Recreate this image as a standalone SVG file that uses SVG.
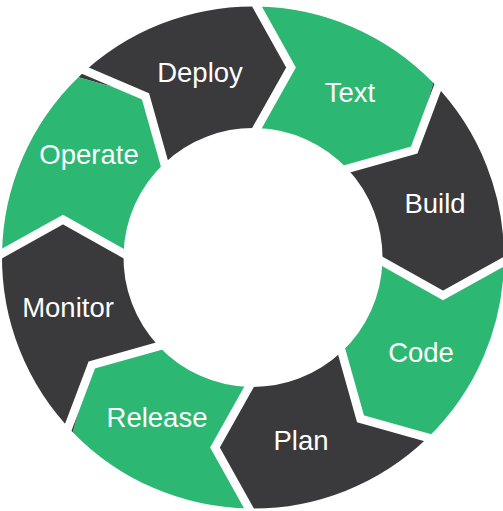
<svg xmlns="http://www.w3.org/2000/svg" width="503" height="511" viewBox="0 0 503 511">
<style>
.g{fill:#2cb873}
.d{fill:#3a393b}
.gap{fill:none;stroke:#ffffff;stroke-width:8.5;stroke-linejoin:miter;stroke-miterlimit:10}
text{font-family:"Liberation Sans",Arial,sans-serif;font-size:27.5px;fill:#ffffff;text-anchor:middle}
</style>
<rect width="503" height="511" fill="#ffffff"/>
<g id="deploy">
<path class="d" d="M78.37,77.21 A251,251 0 0 1 257,6.53 L291,67.5 L257,128.06 A129.5,129.5 0 0 0 164.30,163.14 L145.52,96.28 Z"/>
<text x="200" y="82">Deploy</text>
</g>
<g id="text">
<path class="g" d="M257,6.53 A251,251 0 0 1 433.29,82.87 L414.22,150.02 L347.36,168.80 A129.5,129.5 0 0 0 257,128.06 L291,67.5 Z"/>
<text x="350" y="102">Text</text>
</g>
<g id="build">
<path class="d" d="M433.29,82.87 A251,251 0 0 1 503.97,261.5 L443,295.5 L382.44,261.5 A129.5,129.5 0 0 0 347.36,168.80 L414.22,150.02 Z"/>
<text x="435" y="213">Build</text>
</g>
<g id="code">
<path class="g" d="M503.97,261.5 A251,251 0 0 1 427.63,437.79 L360.48,418.72 L341.70,351.86 A129.5,129.5 0 0 0 382.44,261.5 L443,295.5 Z"/>
<text x="421" y="362">Code</text>
</g>
<g id="plan">
<path class="d" d="M427.63,437.79 A251,251 0 0 1 249,508.47 L215,447.5 L249,386.94 A129.5,129.5 0 0 0 341.70,351.86 L360.48,418.72 Z"/>
<text x="301" y="450">Plan</text>
</g>
<g id="release">
<path class="g" d="M249,508.47 A251,251 0 0 1 72.71,432.13 L91.78,364.98 L158.64,346.20 A129.5,129.5 0 0 0 249,386.94 L215,447.5 Z"/>
<text x="157" y="427">Release</text>
</g>
<g id="monitor">
<path class="d" d="M72.71,432.13 A251,251 0 0 1 2.03,253.5 L63,219.5 L123.56,253.5 A129.5,129.5 0 0 0 158.64,346.20 L91.78,364.98 Z"/>
<text x="68" y="317">Monitor</text>
</g>
<g id="operate">
<path class="g" d="M2.03,253.5 A251,251 0 0 1 78.37,77.21 L145.52,96.28 L164.30,163.14 A129.5,129.5 0 0 0 123.56,253.5 L63,219.5 Z"/>
<text x="89" y="164">Operate</text>
</g>
<g id="separators">
<polyline class="gap" points="75.4,66.4 145.52,96.28 167.1,173.2"/>
<polyline class="gap" points="251.9,-2.6 291,67.5 251.9,137.1"/>
<polyline class="gap" points="443.4,72.3 414.22,150.02 337.3,171.6"/>
<polyline class="gap" points="513.1,256.4 443,295.5 373.4,256.4"/>
<polyline class="gap" points="438.2,440.7 360.48,418.72 338.9,341.8"/>
<polyline class="gap" points="254.1,517.6 215,447.5 254.1,377.9"/>
<polyline class="gap" points="62.6,442.2 91.78,364.98 168.7,343.4"/>
<polyline class="gap" points="-7.1,258.6 63,219.5 132.6,258.6"/>
</g>
</svg>
